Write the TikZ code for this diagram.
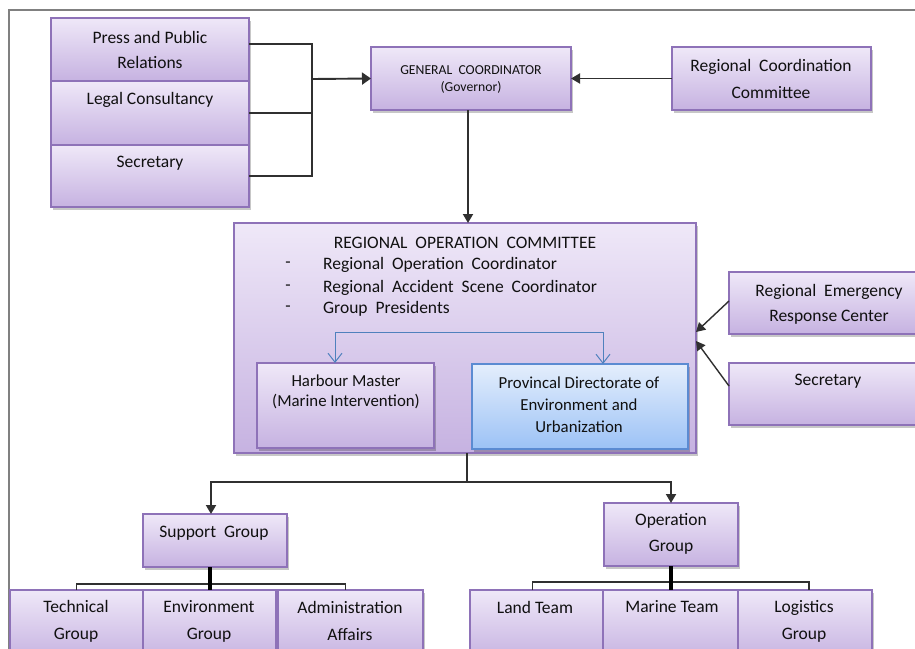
\documentclass[tikz,border=0pt]{standalone}
\usepackage{fontspec}
\setmainfont{Carlito}
\usetikzlibrary{arrows.meta,shadows}
\definecolor{boxtop}{HTML}{EFE8F8}
\definecolor{boxbot}{HTML}{C6B2E1}
\definecolor{boxline}{HTML}{8E72B8}
\definecolor{bluetop}{HTML}{E4EEFC}
\definecolor{bluebot}{HTML}{9CC2F6}
\definecolor{blueline}{HTML}{5B8BD2}
\definecolor{linecol}{HTML}{303030}
\definecolor{framecol}{HTML}{808080}
\definecolor{txtcol}{HTML}{101010}
\definecolor{brk}{HTML}{4F81BD}
\tikzset{
  pbox/.style={draw=boxline, line width=1.1pt, top color=boxtop, bottom color=boxbot,
    drop shadow={shadow xshift=1.5pt, shadow yshift=-2.5pt, opacity=0.22, fill=black},
    anchor=north west, inner sep=0pt, outer sep=0pt},
  bbox/.style={pbox, draw=blueline, top color=bluetop, bottom color=bluebot},
  lbl/.style={font=\fontsize{17.5}{25.5}\selectfont, text=txtcol, align=center, inner sep=0pt},
  conn/.style={draw=linecol, line width=1.5pt},
  arr/.style={draw=linecol, line width=1.9pt, -{Triangle[length=9pt,width=10pt]}},
  heavy/.style={draw=black, line width=4pt},
  brkline/.style={draw=brk, line width=1pt},
  brkarr/.style={draw=brk, line width=1pt, -{Straight Barb[length=9pt,width=14pt]}},
}
\begin{document}
\begin{tikzpicture}[x=1pt,y=-1pt]
\clip (0,0) rectangle (915,648);
\fill[white] (0,0) rectangle (915,648);
\draw[framecol, line width=1.6pt] (9,700) -- (9,10) -- (930,10);

% top left stack
\node[pbox, minimum width=198pt, minimum height=63pt] (press) at (51,18) {};
\node[pbox, minimum width=198pt, minimum height=64pt] (legal) at (51,81) {};
\node[pbox, minimum width=198pt, minimum height=62pt] (secL) at (51,145) {};
\node[lbl] (tpress) at (150,50) {Press and Public\\Relations};
\node[lbl] (tlegal) at (150,100) {Legal Consultancy};
\node[lbl] (tsecL) at (150,163) {Secretary};

% coordinators
\node[pbox, minimum width=200pt, minimum height=63pt] (gc) at (371,47) {};
\node[lbl, font=\fontsize{13.7}{17}\selectfont] (tgc) at (471,79.5) {GENERAL\ \ COORDINATOR\\(Governor)};
\node[pbox, minimum width=199pt, minimum height=63pt] (rcc) at (672,47) {};
\node[lbl, font=\fontsize{17.5}{27}\selectfont] (trcc) at (771,78.5) {Regional\ \ Coordination\\Committee};

% regional operation committee
\node[pbox, minimum width=462pt, minimum height=230pt] (roc) at (234,223) {};
\node[lbl] (troc) at (465,243) {REGIONAL\ \ OPERATION\ \ COMMITTEE};
\node[lbl] (d1) at (288,265) {-};
\node[lbl] (d2) at (288,288) {-};
\node[lbl] (d3) at (288,309) {-};
\node[lbl, anchor=west] (i1) at (323,265) {Regional\ \ Operation\ \ Coordinator};
\node[lbl, anchor=west] (i2) at (323,288) {Regional\ \ Accident\ \ Scene\ \ Coordinator};
\node[lbl, anchor=west] (i3) at (323,309) {Group\ \ Presidents};

\node[pbox, minimum width=177pt, minimum height=85pt] (harb) at (257,363) {};
\node[lbl, font=\fontsize{16.8}{20}\selectfont] (tharb) at (346,392) {Harbour Master\\(Marine Intervention)};
\node[bbox, minimum width=216pt, minimum height=85pt] (prov) at (472,364) {};
\node[lbl, font=\fontsize{16.8}{22}\selectfont] (tprov) at (579,405) {Provincal Directorate of\\Environment and\\Urbanization};

\coordinate (bL) at (335,332);
\coordinate (bR) at (603,332);
\draw[brkline] (bL) -- (bR);
\draw[brkarr] (bL) -- (harb.north -| bL);
\draw[brkarr] (bR) -- (prov.north -| bR);

% right side
\node[pbox, minimum width=200pt, minimum height=62pt] (rerc) at (729,272) {};
\node[lbl, font=\fontsize{17.5}{25}\selectfont] (trerc) at (829,304.5) {Regional\ \ Emergency\\Response Center};
\node[pbox, minimum width=200pt, minimum height=62pt] (secR) at (729,363) {};
\node[lbl] (tsecR) at (828,381) {Secretary};

% groups
\node[pbox, minimum width=144pt, minimum height=53pt] (sup) at (143,514) {};
\node[lbl] (tsup) at (214,533) {Support\ \ Group};
\node[pbox, minimum width=134pt, minimum height=63pt] (opg) at (604,503) {};
\node[lbl, font=\fontsize{17.5}{26}\selectfont] (topg) at (671,534) {Operation\\Group};

% bottom rows
\node[pbox, minimum width=133pt, minimum height=70pt] (tech) at (10,590) {};
\node[pbox, minimum width=133pt, minimum height=70pt] (env) at (143,590) {};
\node[pbox, minimum width=145pt, minimum height=70pt] (adm) at (278,590) {};
\node[pbox, minimum width=133pt, minimum height=70pt] (land) at (470,590) {};
\node[pbox, minimum width=135pt, minimum height=70pt] (marine) at (603,590) {};
\node[pbox, minimum width=134pt, minimum height=70pt] (logi) at (738,590) {};
\node[lbl, font=\fontsize{17.5}{27}\selectfont] (ttech) at (76,621) {Technical\\Group};
\node[lbl, font=\fontsize{17.5}{27}\selectfont] (tenv) at (209,621) {Environment\\Group};
\node[lbl, font=\fontsize{17.5}{27}\selectfont] (tadm) at (350,621) {Administration\\Affairs};
\node[lbl] (tland) at (535,607) {Land Team};
\node[lbl] (tmarine) at (672,607) {Marine Team};
\node[lbl, font=\fontsize{17.5}{27}\selectfont] (tlogi) at (804,621) {Logistics\\Group};

% connectors top-left
\coordinate (jT) at (312,44);
\coordinate (jB) at (312,176);
\coordinate (jM) at (312,79);
\draw[conn] ([yshift=5.5pt]press.east) -- (jT) -- (jB) -- (secL.east);
\draw[conn] (legal.east) -- (legal.east -| jT);
\draw[arr, -{Triangle[length=9pt,width=12pt]}] (jM) -- (gc.west);
\draw[arr] (rcc.west) -- (gc.east);
\draw[arr] ([xshift=-3pt]gc.south) -- ([xshift=0pt]roc.north -| 468,0);

% right arrows
\draw[arr, line width=1.4pt] ([yshift=2pt]rerc.west) -- ([yshift=6pt]roc.east);
\draw[arr, line width=1.4pt] ([yshift=8pt]secR.west) -- ([yshift=-3pt]roc.east);

% bottom arrows
\coordinate (jR) at (467,482);
\draw[conn, line width=1.9pt] ([xshift=2pt]roc.south) -- (jR);
\draw[arr] (jR) -| ([xshift=-4pt]sup.north);
\draw[arr] (jR) -| (opg.north);

% group brackets
\draw[conn, line width=1.2pt] (tech.north) -- ++(0,-6) -| ([xshift=-5pt]adm.north);
\draw[heavy] (sup.south -| env.north) -- (env.north);
\draw[conn, line width=1.2pt] ([xshift=-4pt]land.north) -- ++(0,-8) -| ([xshift=4pt]logi.north);
\draw[heavy] (opg.south -| marine.north) -- (marine.north);
\end{tikzpicture}
\end{document}
